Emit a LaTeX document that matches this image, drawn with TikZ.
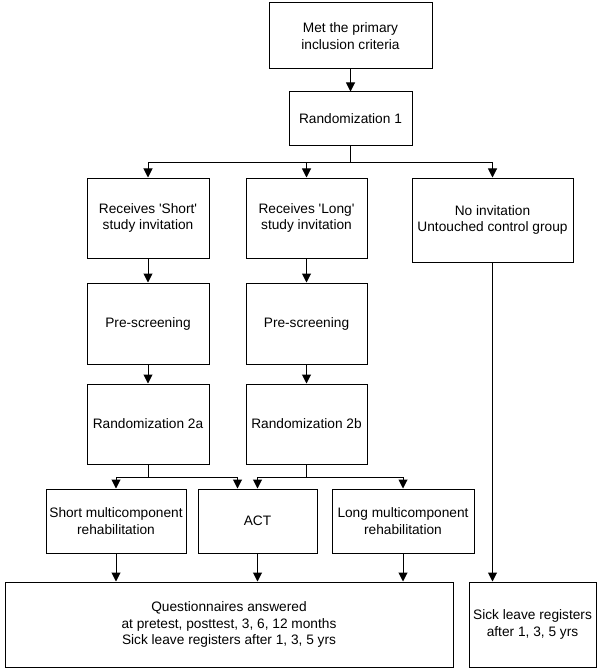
\documentclass[tikz,border=0pt]{standalone}
\usepackage{fontspec}
\setmainfont{Liberation Sans}
\usetikzlibrary{arrows.meta}

\begin{document}
\begin{tikzpicture}[x=1pt, y=-1pt, font=\fontsize{13.7}{16.7}\selectfont]
		\tikzstyle{flowbox} = [rectangle, draw, line width=1pt, inner sep=2pt, text centered, align=center, fill=white]
		\tikzstyle{arr} = [draw, line width=1pt, -{Triangle[width=9pt,length=9pt]}]
		\tikzstyle{link} = [draw, line width=1pt]
		\useasboundingbox (0,0) rectangle (600,671);
		\node[flowbox, minimum width=163pt, minimum height=66pt] (met) at (350.5,36) {Met the primary\\inclusion criteria};
		\node[flowbox, minimum width=123pt, minimum height=54pt] (rand1) at (350.5,119) {Randomization 1};
		\node[flowbox, minimum width=122pt, minimum height=80pt] (shortinv) at (148,218) {Receives \textquotesingle Short\textquotesingle\\study invitation};
		\node[flowbox, minimum width=121pt, minimum height=80pt] (longinv) at (306.5,218) {Receives \textquotesingle Long\textquotesingle\\study invitation};
		\node[flowbox, minimum width=161pt, minimum height=84pt] (noinv) at (492.5,220) {No invitation\\Untouched control group};
		\node[flowbox, minimum width=122pt, minimum height=81pt] (prescrA) at (148,323.5) {Pre-screening};
		\node[flowbox, minimum width=121pt, minimum height=81pt] (prescrB) at (306.5,323.5) {Pre-screening};
		\node[flowbox, minimum width=122pt, minimum height=80pt] (rand2a) at (148,424) {Randomization 2a};
		\node[flowbox, minimum width=121pt, minimum height=80pt] (rand2b) at (306.5,424) {Randomization 2b};
		\node[flowbox, minimum width=140pt, minimum height=64pt] (shortmulti) at (116,521) {Short multicomponent\\rehabilitation};
		\node[flowbox, minimum width=119pt, minimum height=64pt] (act) at (257.5,521) {ACT};
		\node[flowbox, minimum width=142pt, minimum height=64pt] (longmulti) at (403,521) {Long multicomponent\\rehabilitation};
		\node[flowbox, minimum width=448pt, minimum height=85pt] (quest) at (229,624.5) {Questionnaires answered\\at pretest, posttest, 3, 6, 12 months\\Sick leave registers after 1, 3, 5 yrs};
		\node[flowbox, minimum width=127pt, minimum height=85pt] (sickleave) at (532.5,624.5) {Sick leave registers\\after 1, 3, 5 yrs};
		% branch points
		\coordinate (b1) at (350.5,163);
		\coordinate (b2a) at (148,477);
		\coordinate (b2b) at (306.5,477);
		\draw[arr] (met) -- (rand1);
		\draw[link] (rand1) -- (b1);
		\draw[arr] (b1) -| (shortinv.north);
		\draw[arr] (b1) -| (longinv.north);
		\draw[arr] (b1) -| (noinv.north);
		\draw[arr] (shortinv) -- (prescrA);
		\draw[arr] (longinv) -- (prescrB);
		\draw[arr] (prescrA) -- (rand2a);
		\draw[arr] (prescrB) -- (rand2b);
		\draw[link] (rand2a) -- (b2a);
		\draw[link] (rand2b) -- (b2b);
		\draw[arr] (b2a) -| (shortmulti.north);
		\draw[arr] (b2a) -| ([xshift=-20pt]act.north);
		\draw[arr] (b2b) -| (act.north);
		\draw[arr] (b2b) -| (longmulti.north);
		\draw[arr] (shortmulti) -- (shortmulti.south |- quest.north);
		\draw[arr] (act) -- (act.south |- quest.north);
		\draw[arr] (longmulti) -- (longmulti.south |- quest.north);
		\draw[arr] (noinv) -- (noinv.south |- sickleave.north);
\end{tikzpicture}
\end{document}
